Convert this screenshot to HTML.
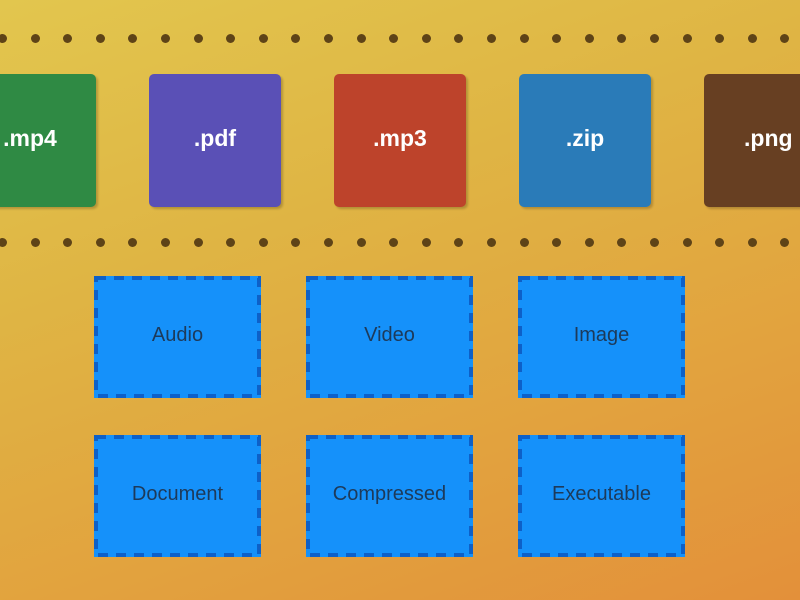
<!DOCTYPE html>
<html><head><style>
body{margin:0;width:800px;height:600px;overflow:hidden;position:relative;
background:linear-gradient(160deg,#e2c64e 0%,#dfb544 35%,#e2a23e 70%,#e3903a 100%);
font-family:"Liberation Sans",sans-serif;}
.dot{position:absolute;width:9px;height:9px;border-radius:50%;background:#5e4317;}
.tile{position:absolute;top:74px;width:132px;height:133px;border-radius:5px;color:#fff;font-size:23px;font-weight:bold;display:flex;align-items:center;justify-content:center;box-shadow:2px 2px 2px rgba(0,0,0,.2);padding-bottom:4px;box-sizing:border-box}
.box{position:absolute;width:167px;height:122px;box-sizing:border-box;background:#1591fa;display:flex;align-items:center;justify-content:center;color:#1d3a5a;font-size:20px;padding-bottom:4px}
.box svg{position:absolute;left:0;top:0}
</style></head><body>
<div id="dots"></div>
<div class="tile" style="left:-36px;background:#2f8a44">.mp4</div>
<div class="tile" style="left:149px;background:#5a50b6">.pdf</div>
<div class="tile" style="left:334px;background:#bd432b">.mp3</div>
<div class="tile" style="left:519px;background:#2a7bb8">.zip</div>
<div class="tile" style="left:704px;background:#673f22;justify-content:flex-start;padding-left:40px">.png</div>
<script>
var d=document.getElementById('dots'),h='';
for(var i=0;i<25;i++){var x=-2+i*32.6;h+='<div class="dot" style="left:'+x+'px;top:34px"></div><div class="dot" style="left:'+x+'px;top:238px"></div>';}
d.innerHTML=h;
var labels=[["Audio",94,276],["Video",306,276],["Image",518,276],["Document",94,435],["Compressed",306,435],["Executable",518,435]];
labels.forEach(function(l){var b=document.createElement('div');b.className='box';b.style.left=l[1]+'px';b.style.top=l[2]+'px';
b.innerHTML='<svg width="167" height="122"><rect x="2" y="2" width="163" height="118" fill="none" stroke="#0d60c8" stroke-width="4" stroke-dasharray="10 8"/></svg><span style="position:relative">'+l[0]+'</span>';document.body.appendChild(b);});
</script>
</body></html>
